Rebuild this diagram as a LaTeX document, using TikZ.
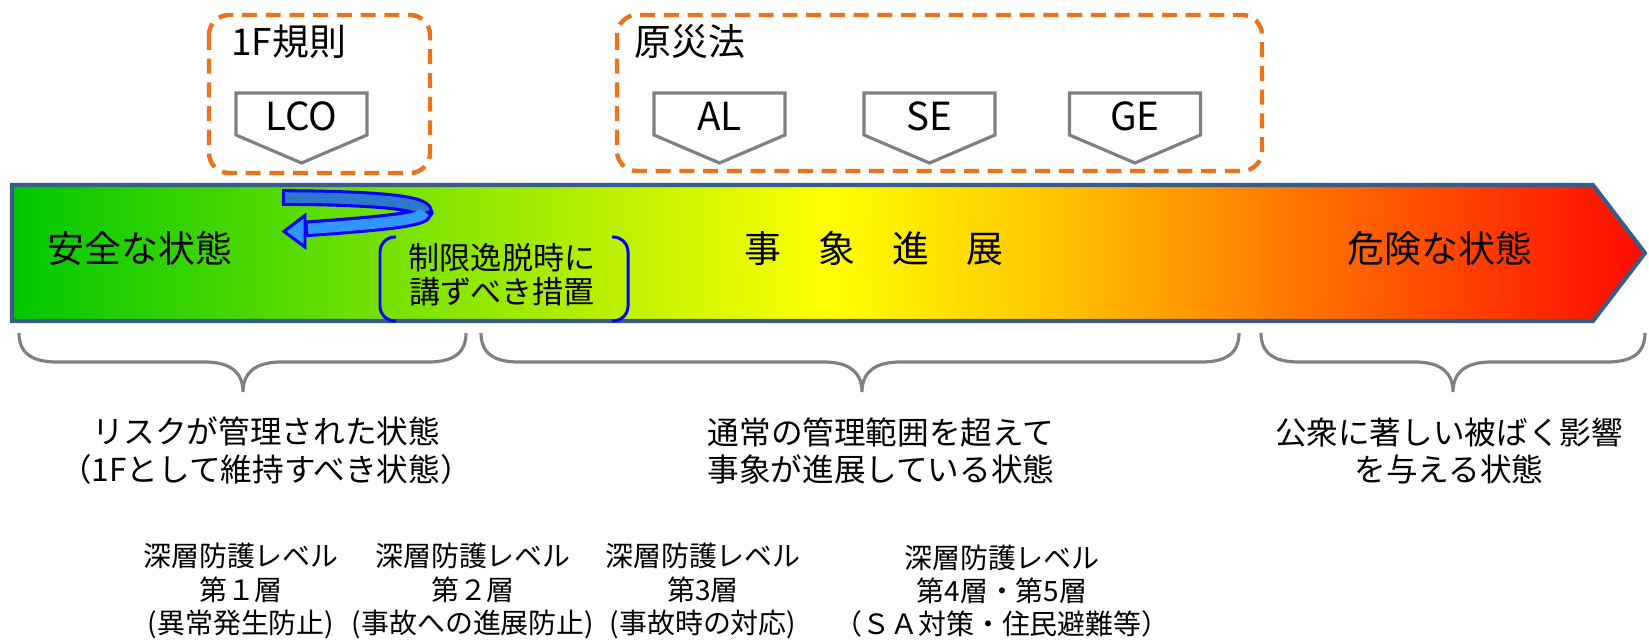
\documentclass[tikz,border=0pt]{standalone}
\usepackage{fontspec}
\setmainfont{Noto Sans CJK JP}
\definecolor{g0}{RGB}{0,200,0}
\definecolor{yl}{RGB}{255,255,0}
\definecolor{orA}{RGB}{255,200,0}
\definecolor{orB}{RGB}{255,110,0}
\definecolor{rd}{RGB}{255,10,0}
\definecolor{bandedge}{RGB}{56,93,138}
\definecolor{dorange}{RGB}{235,115,30}
\definecolor{pgray}{RGB}{128,128,128}
\definecolor{arrdark}{RGB}{45,120,205}
\definecolor{arrlight}{RGB}{50,150,255}
\definecolor{arredge}{RGB}{0,0,255}
\pgfdeclarehorizontalshading{bandshade}{100bp}{color(0bp)=(g0); color(25bp)=(g0); color(50bp)=(yl); color(56.5bp)=(orA); color(65bp)=(orB); color(75bp)=(rd); color(100bp)=(rd)}
\tikzset{
  bandtxt/.style={inner sep=0pt, font=\fontsize{21pt}{25pt}\selectfont},
  hdtxt/.style={inner sep=0pt, anchor=west, font=\fontsize{21pt}{25pt}\selectfont},
  pentline/.style={draw=pgray, line width=1.8pt, fill=white, line join=miter},
  pentxt/.style={inner sep=0pt, font=\fontsize{22pt}{26pt}\selectfont},
  orbox/.style={draw=dorange, line width=2.5pt, dash pattern=on 8.5pt off 5pt, rounded corners=0.4cm},
  bracebox/.style={draw=arredge, line width=1.7pt, rounded corners=0.3cm},
  boxtxt/.style={inner sep=0pt, align=center, font=\fontsize{17.7pt}{19.5pt}\selectfont},
  gbrace/.style={draw=pgray, line width=1.8pt},
  labtxt/.style={inner sep=0pt, align=center, font=\fontsize{18pt}{21.5pt}\selectfont},
  deftxt/.style={inner sep=0pt, align=center, font=\fontsize{15.9pt}{19pt}\selectfont}
}
\begin{document}
\begin{tikzpicture}[x={(0.02cm,0)}, y={(0,-0.02cm)}]
\useasboundingbox (0,0) rectangle (1649,639);
% main band arrow
\path[shade, shading=bandshade, draw=bandedge, line width=2.3pt, line join=miter]
  (12,185) -- (1593,185) -- (1645,253) -- (1593,321) -- (12,321) -- cycle;
% dashed groups
\draw[orbox] (209,15) rectangle (430,173);
\draw[orbox] (617,15) rectangle (1262,171);
\node[hdtxt] (rule) at (231,42) {1F規則};
\node[hdtxt] (law) at (634,42) {原災法};
% pentagons
\foreach \n/\x/\t in {lco/301.5/LCO, al/719.5/AL, se/929.5/SE, ge/1135/GE}{
  \draw[pentline] (\x-65.5,93) -- (\x+65.5,93) -- (\x+65.5,135) -- (\x,163) -- (\x-65.5,135) -- cycle;
  \node[pentxt] (\n) at (\x,116) {\t};
}
% band labels
\node[bandtxt] (safe) at (140,248) {安全な状態};
\node[bandtxt] (prog) at (874,248) {事　象　進　展};
\node[bandtxt] (danger) at (1440,248) {危険な状態};
% blue U-turn arrow
\draw[draw=arredge, line width=9.5pt] (282,197.5) .. controls (380,198) and (424,203) .. (424.5,212) .. controls (424,219) and (390,223) .. (304,229);
\draw[fill=arrlight, draw=arredge, line width=1.7pt, line join=miter] (305,215.5) -- (284,231.5) -- (305,247) -- cycle;
\draw[draw=arrdark, line width=6pt] (285,197.5) .. controls (380,198) and (424,203) .. (424.5,212);
\draw[draw=arrlight, line width=6pt] (424.5,212) .. controls (424,219) and (390,223) .. (308,228.8);
% bracket box
\draw[bracebox] (396,237) -- (380,237) -- (380,321) -- (396,321);
\draw[bracebox] (612,237) -- (628,237) -- (628,321) -- (612,321);
\node[boxtxt] (meas) at (502,275) {制限逸脱時に\\講ずべき措置};
% braces
\foreach \a/\b/\c in {19/243/466, 481/862/1239, 1261/1453/1645}{
  \draw[gbrace] (\a,333) .. controls (\a,354) and (\a+14,362) .. (\a+38,362) -- (\b-38,362)
    .. controls (\b-16,362) and (\b,370) .. (\b,392)
    .. controls (\b,370) and (\b+16,362) .. (\b+38,362) -- (\c-38,362)
    .. controls (\c-14,362) and (\c,354) .. (\c,333);
}
% brace labels
\node[labtxt] (l1) at (266,451) {リスクが管理された状態\\（1Fとして維持すべき状態）};
\node[labtxt] (l2) at (881,451) {通常の管理範囲を超えて\\事象が進展している状態};
\node[labtxt] (l3) at (1449,451) {公衆に著しい被ばく影響\\を与える状態};
% defence in depth
\node[deftxt] (d1) at (241,591) {深層防護レベル\\第１層\\(異常発生防止)};
\node[deftxt] (d2) at (473,591) {深層防護レベル\\第２層\\(事故への進展防止)};
\node[deftxt] (d3) at (703,591) {深層防護レベル\\第3層\\(事故時の対応)};
\node[deftxt] (d4) at (1002,591) {深層防護レベル\\第4層・第5層\\（ＳＡ対策・住民避難等）};
\end{tikzpicture}
\end{document}
